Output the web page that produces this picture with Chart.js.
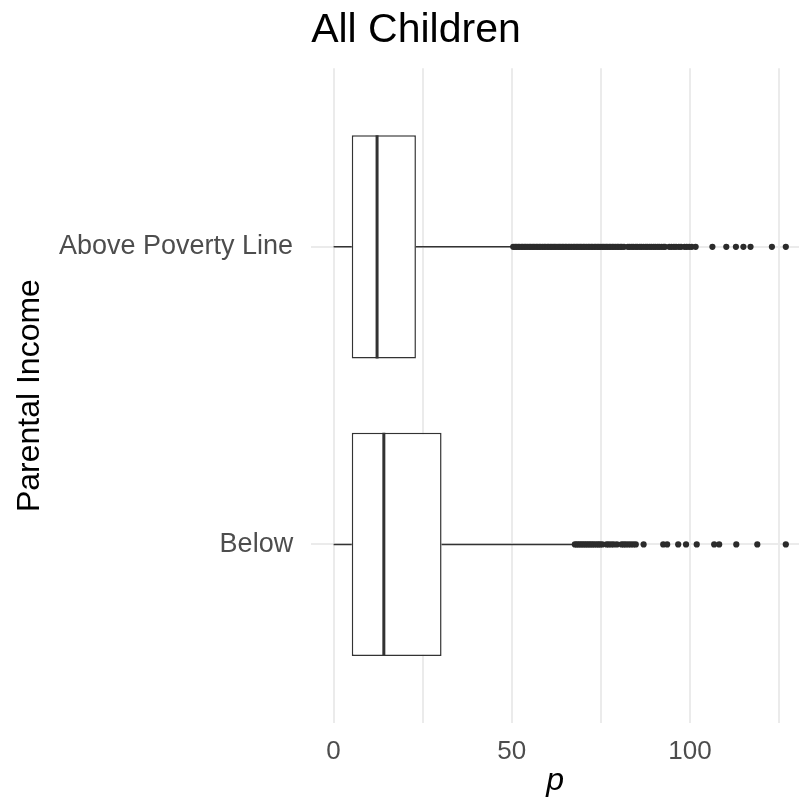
<!DOCTYPE html>
<html>
<head>
<meta charset="utf-8">
<script src="https://cdn.jsdelivr.net/npm/chart.js@4"></script>
<style>
  html, body { margin: 0; padding: 0; background: #fff; }
  #wrap { width: 803px; height: 799px; }
</style>
</head>
<body>
<div id="wrap"><canvas id="chart"></canvas></div>
<script>
// categories, bottom to top (position 1 = Below, 2 = Above)
const categories = ["Below", "Above Poverty Line"];

// box stats per category
const whiskerLow = [0, 0];
const q1 = [5.1, 5.1];
const median = [14.1, 12.2];
const q3 = [30.3, 23.1];
const whiskerHigh = [67.5, 50.2];

const belowOutliers = [
    67.7, 68.2, 68.7, 69.2, 69.7, 70.2, 70.7, 71.2, 71.7, 72.2, 72.7, 73.2, 73.8, 74.3, 74.8, 75.4,
    76.6, 77.2, 77.9, 78.6, 79.5, 80.8, 81.4, 82.0, 82.7, 83.4, 84.1, 84.8,
    87.0, 92.5, 93.6, 96.7, 98.9, 101.9, 106.8, 108.2, 113.0, 118.9, 126.9,
];
const aboveOutliers = [
    50.4, 50.9, 51.3, 51.8, 52.2, 52.7, 53.1, 53.6, 54.0, 54.5, 55.0, 55.4, 55.9, 56.3, 56.8, 57.2,
    57.7, 58.1, 58.6, 59.1, 59.5, 60.0, 60.4, 60.9, 61.3, 61.8, 62.2, 62.7, 63.2, 63.6, 64.1, 64.5,
    65.0, 65.4, 65.9, 66.3, 66.8, 67.3, 67.7, 68.2, 68.6, 69.1, 69.5, 70.0, 70.4, 70.9, 71.4, 71.8,
    72.3, 72.7, 73.2, 73.6, 74.1, 74.5, 75.0, 75.5, 75.9, 76.4, 76.8, 77.3, 77.7, 78.2, 78.6, 79.1,
    79.6, 80.0, 80.5, 80.9, 81.5,
    82.6, 83.1, 83.7, 84.2, 84.8, 85.3, 85.9, 86.4, 87.0, 87.6, 88.1, 88.7, 89.2, 89.8, 90.3, 90.9,
    91.4, 92.0, 92.6, 93.0,
    94.2, 94.8, 95.5, 96.1, 96.9, 97.5, 98.5, 99.1, 99.8, 100.5, 101.6,
    106.3, 110.2, 112.9, 115.0, 117.0, 123.0, 126.9,
];
const outliers = [belowOutliers, aboveOutliers];

const xTicks = [0, 25, 50, 75, 100, 125];
const xLabels = [0, 50, 100];

const BOX_WIDTH = 0.75;
const INK = "#333333";
const GRID = "#ebebeb";
const FONT = "'Liberation Sans', Arial, sans-serif";

const pos = (i) => i + 1;

const datasets = [];

// medians (on top)
categories.forEach((c, i) => {
    datasets.push({
        type: "line",
        order: 0,
        data: [
            { x: median[i], y: pos(i) - BOX_WIDTH / 2 },
            { x: median[i], y: pos(i) + BOX_WIDTH / 2 },
        ],
        borderColor: INK,
        borderWidth: 3,
        pointRadius: 0,
    });
});

// outliers
categories.forEach((c, i) => {
    datasets.push({
        type: "line",
        order: 1,
        showLine: false,
        data: outliers[i].map((v) => ({ x: v, y: pos(i) })),
        pointRadius: 3.1,
        pointBackgroundColor: "#2b2b2b",
        pointBorderWidth: 0,
    });
});

// whiskers
categories.forEach((c, i) => {
    [[whiskerLow[i], q1[i]], [q3[i], whiskerHigh[i]]].forEach(([a, b]) => {
        datasets.push({
            type: "line",
            order: 1,
            data: [{ x: a, y: pos(i) }, { x: b, y: pos(i) }],
            borderColor: INK,
            borderWidth: 1.5,
            pointRadius: 0,
        });
    });
});

// boxes
datasets.push({
    type: "bar",
    order: 2,
    data: categories.map((c, i) => ({ x: [q1[i], q3[i]], y: pos(i) })),
    backgroundColor: "#ffffff",
    borderColor: INK,
    borderWidth: 1.5,
    borderSkipped: false,
    barPercentage: BOX_WIDTH,
    categoryPercentage: 1,
});

new Chart(document.getElementById("chart"), {
    type: "bar",
    data: { datasets },
    options: {
        indexAxis: "y",
        responsive: true,
        maintainAspectRatio: false,
        animation: false,
        layout: { padding: 0 },
        plugins: {
            legend: { display: false },
            tooltip: { enabled: false },
            title: {
                display: true,
                text: "All Children",
                align: "start",
                fullSize: false,
                color: "#000",
                font: { family: FONT, size: 41, weight: "normal" },
                padding: { top: 6, bottom: 13 },
            },
        },
        scales: {
            x: {
                type: "linear",
                min: -6.3,
                max: 130.6,
                afterBuildTicks: (axis) => {
                    axis.ticks = xTicks.map((v) => ({ value: v }));
                },
                grid: { color: GRID, lineWidth: 2, drawTicks: false },
                border: { display: false },
                ticks: {
                    autoSkip: false,
                    maxRotation: 0,
                    padding: 15.5,
                    color: "#4d4d4d",
                    font: { family: FONT, size: 26, lineHeight: 1 },
                    callback: (v) => (xLabels.includes(v) ? String(v) : ""),
                },
                title: {
                    display: true,
                    text: "p",
                    color: "#000",
                    font: { family: FONT, size: 32, style: "italic", lineHeight: 1 },
                    padding: { top: -15, bottom: 2 },
                },
            },
            y: {
                type: "linear",
                offset: false,
                min: 0.4,
                max: 2.6,
                afterBuildTicks: (axis) => {
                    axis.ticks = categories.map((c, i) => ({ value: pos(i) }));
                },
                grid: { color: GRID, lineWidth: 2, drawTicks: false, offset: false },
                border: { display: false },
                ticks: {
                    autoSkip: false,
                    padding: 18,
                    color: "#4d4d4d",
                    font: { family: FONT, size: 27, lineHeight: 1 },
                    callback: (v) => categories[v - 1] || "",
                },
                title: {
                    display: true,
                    text: "Parental Income",
                    color: "#000",
                    font: { family: FONT, size: 32, lineHeight: 1 },
                    padding: { top: 14, bottom: -5 },
                },
            },
        },
    },
});
</script>
</body>
</html>
